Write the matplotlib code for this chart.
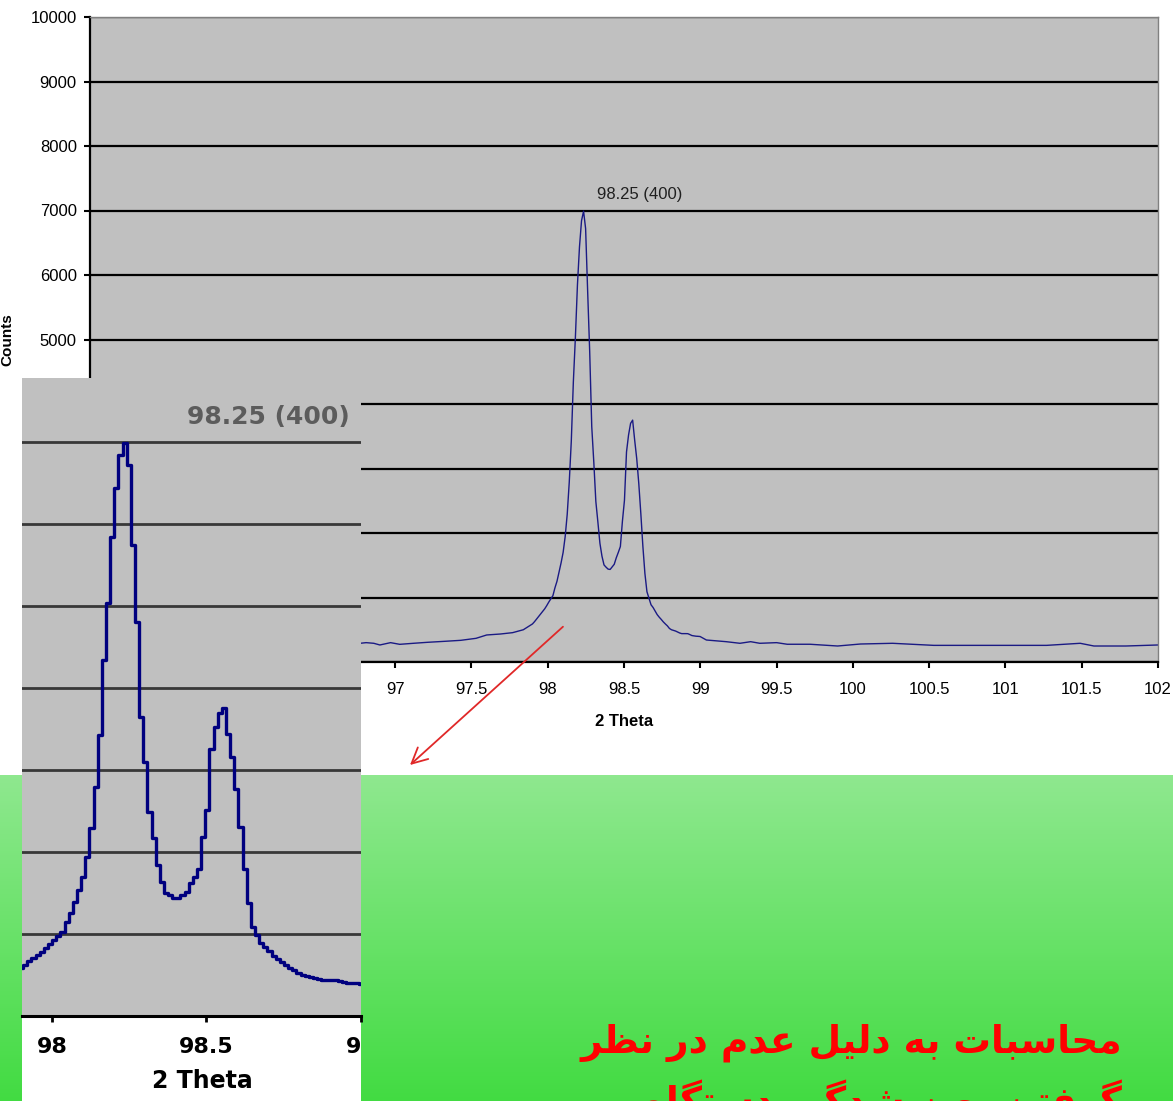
import numpy as np
import matplotlib
matplotlib.use('Agg')
from matplotlib import pyplot as plt
from matplotlib.transforms import blended_transform_factory

W, H = 1173, 1101

# baseline left of the (400) doublet
left_theta = [96.70, 96.77, 96.81, 96.86, 96.90, 96.97, 97.03, 97.12, 97.21, 97.32,
              97.43, 97.53, 97.60, 97.69, 97.77, 97.84]
left_counts = [290, 290, 300, 290, 264, 300, 274, 290, 305, 320,
               336, 367, 419, 434, 455, 500]

# peak region, step scan from 97.9 deg
peak_start = 97.9
peak_step = 0.0134
peak_counts = [590, 625, 665, 705, 745, 785, 825, 875, 930, 980,
               1028, 1150, 1252, 1394, 1537, 1699, 1943, 2289, 2789, 3427,
               4341, 5033, 5845, 6435, 6841, 6990, 6720, 5744, 4809, 3650,
               3100, 2490, 2170, 1840, 1640, 1505, 1470, 1440, 1435, 1475,
               1515, 1616, 1700, 1790, 2182, 2507, 3256, 3519, 3700, 3750,
               3439, 3154, 2770, 2304, 1798, 1373, 1089, 988, 887, 845,
               790, 735, 695, 660, 622, 590, 560, 520, 500, 490,
               480, 465, 450, 440, 440, 440, 439, 425, 410, 405,
               400, 398, 395]

# baseline right of the doublet
right_theta = [99.04, 99.17, 99.26, 99.33, 99.39, 99.50, 99.57, 99.72, 99.90, 100.05,
               100.26, 100.53, 100.66, 100.92, 101.14, 101.27, 101.49, 101.58, 101.79, 102.0]
right_counts = [341, 315, 290, 315, 290, 300, 275, 275, 248, 279,
                290, 258, 258, 258, 258, 258, 290, 248, 248, 264]

x_ticks = [95, 95.5, 96, 96.5, 97, 97.5, 98, 98.5, 99, 99.5, 100, 100.5, 101, 101.5, 102]
y_ticks = [0, 1000, 2000, 3000, 4000, 5000, 6000, 7000, 8000, 9000, 10000]
inset_ticks = [98, 98.5, 99]
peak_label = '98.25 (400)'
note_lines = ['محاسبات به دلیل عدم در نظر', 'گرفتن پهن شدگی دستگاه']

peak_theta = list(np.round(peak_start + peak_step * np.arange(len(peak_counts)), 4))
theta = np.array(left_theta + peak_theta + right_theta)
counts = np.array(left_counts + peak_counts + right_counts)

# simple Persian shaping (matplotlib has no text shaping / RTL)
FORMS = {
    'ا': ('\uFE8D', '\uFE8E', None, None),
    'ب': ('\uFE8F', '\uFE90', '\uFE91', '\uFE92'),
    'پ': ('\uFB56', '\uFB57', '\uFB58', '\uFB59'),
    'ت': ('\uFE95', '\uFE96', '\uFE97', '\uFE98'),
    'ح': ('\uFEA1', '\uFEA2', '\uFEA3', '\uFEA4'),
    'د': ('\uFEA9', '\uFEAA', None, None),
    'ر': ('\uFEAD', '\uFEAE', None, None),
    'س': ('\uFEB1', '\uFEB2', '\uFEB3', '\uFEB4'),
    'ش': ('\uFEB5', '\uFEB6', '\uFEB7', '\uFEB8'),
    'ظ': ('\uFEC5', '\uFEC6', '\uFEC7', '\uFEC8'),
    'ع': ('\uFEC9', '\uFECA', '\uFECB', '\uFECC'),
    'ف': ('\uFED1', '\uFED2', '\uFED3', '\uFED4'),
    'گ': ('\uFB92', '\uFB93', '\uFB94', '\uFB95'),
    'ل': ('\uFEDD', '\uFEDE', '\uFEDF', '\uFEE0'),
    'م': ('\uFEE1', '\uFEE2', '\uFEE3', '\uFEE4'),
    'ن': ('\uFEE5', '\uFEE6', '\uFEE7', '\uFEE8'),
    'ه': ('\uFEE9', '\uFEEA', '\uFEEB', '\uFEEC'),
    'ی': ('\uFBFC', '\uFBFD', '\uFBFE', '\uFBFF'),
}


def shape(s):
    out = []
    for i, c in enumerate(s):
        if c not in FORMS:
            out.append(c)
            continue
        iso, fin, ini, med = FORMS[c]
        prev = s[i - 1] if i > 0 else ''
        nxt = s[i + 1] if i + 1 < len(s) else ''
        jp = prev in FORMS and FORMS[prev][2] is not None
        jn = nxt in FORMS and ini is not None
        if jp and jn:
            out.append(med)
        elif jp:
            out.append(fin)
        elif jn:
            out.append(ini)
        else:
            out.append(iso)
    return ''.join(reversed(out))


def box(x0, y0, x1, y1):
    # pixel box (top-left origin) -> figure fraction rect
    return [x0 / W, 1 - y1 / H, (x1 - x0) / W, (y1 - y0) / H]


plt.rcParams['font.family'] = ['Liberation Sans', 'DejaVu Sans']
fig = plt.figure(figsize=(W / 100, H / 100), dpi=100, facecolor='white')

# green slide background
ax_g = fig.add_axes(box(0, 775, W, H), zorder=0)
top_c = np.array([0.56, 0.91, 0.56])
bot_c = np.array([0.26, 0.86, 0.26])
t = np.linspace(0, 1, 200)[:, None, None]
ax_g.imshow(top_c * (1 - t) + bot_c * t, aspect='auto', extent=[0, 1, 0, 1])
ax_g.axis('off')

# main chart
ax = fig.add_axes(box(90, 17, 1158, 662), zorder=1)
ax.set_facecolor('#C0C0C0')
ax.plot(theta, counts, color='#1a1a84', lw=1.0)
ax.set_xlim(95, 102)
ax.set_ylim(0, 10000)
ax.set_xticks(x_ticks)
ax.set_xticklabels(['%g' % v for v in x_ticks])
ax.set_yticks(y_ticks)
ax.set_yticklabels([str(v) for v in y_ticks])
ax.yaxis.grid(True, color='black', lw=1.6)
ax.tick_params(axis='both', direction='out', width=1.5, length=4.5, labelsize=12)
ax.tick_params(axis='x', pad=10)
ax.tick_params(axis='y', pad=5)
for s in ['left', 'bottom']:
    ax.spines[s].set_color('black')
    ax.spines[s].set_linewidth(1.6)
for s in ['top', 'right']:
    ax.spines[s].set_color('#808080')
    ax.spines[s].set_linewidth(1.0)
ax.set_xlabel('2 Theta', fontsize=12, fontweight='bold')
ax.xaxis.set_label_coords(0.5, -0.080)
ax.set_ylabel('Counts', fontsize=11, fontweight='bold')
ax.yaxis.set_label_coords(-0.071, 0.5)
ax.text(98.32, 7250, peak_label, fontsize=12, color='#202020', va='center')
ax.annotate('', xy=(410, H - 765), xycoords='figure pixels',
            xytext=(98.10, 547), textcoords='data',
            arrowprops=dict(arrowstyle='->', color='#e02828', lw=1.3,
                            mutation_scale=28, shrinkA=0, shrinkB=0),
            annotation_clip=False)

# zoomed inset pasted over the lower left
ax_bg = fig.add_axes(box(22, 378, 361, H), zorder=3)
ax_bg.set_facecolor('white')
ax_bg.set_xticks([])
ax_bg.set_yticks([])
for s in ax_bg.spines.values():
    s.set_visible(False)

ax_in = fig.add_axes(box(22, 378, 361, 1016), zorder=4)
ax_in.set_facecolor('#C0C0C0')
ax_in.plot(theta, counts, color='#00007f', lw=2.4, drawstyle='steps-mid')
ax_in.set_xlim(97.903, 98.997)
ax_in.set_ylim(0, 7780)
ax_in.set_yticks(y_ticks[1:8])
ax_in.yaxis.grid(True, color='#383838', lw=2.0)
ax_in.tick_params(axis='y', length=0, labelleft=False)
ax_in.set_xticks(inset_ticks)
ax_in.tick_params(axis='x', direction='out', length=4.5, width=2, labelbottom=False)
for s in ['left', 'top', 'right']:
    ax_in.spines[s].set_visible(False)
ax_in.spines['bottom'].set_linewidth(2.2)
ax_in.text(0.968, 0.939, peak_label, transform=ax_in.transAxes, ha='right', va='center',
           fontsize=18, fontweight='bold', color='#5c5c5c', family='DejaVu Sans')

tr = blended_transform_factory(ax_in.transData, ax_bg.transAxes)
for v in inset_ticks:
    ax_bg.text(v, (H - 1047) / (H - 378), '%g' % v, transform=tr, ha='center', va='center',
               fontsize=16, fontweight='bold', family='DejaVu Sans', clip_on=True)
ax_bg.text((202 - 22) / 339, (H - 1081) / (H - 378), '2 Theta', transform=ax_bg.transAxes,
           ha='center', va='center', fontsize=17, fontweight='bold', family='DejaVu Sans',
           clip_on=True)

# red Persian note on the green band (second line runs off the bottom, as in the slide)
for i, line in enumerate(note_lines):
    fig.text(1122 / W, 1 - (1052 + 62 * i) / H, shape(line), ha='right', va='baseline',
             fontsize=27, fontweight='bold', color='red', family='DejaVu Sans', zorder=5)

fig.savefig('out.png', dpi=100)
